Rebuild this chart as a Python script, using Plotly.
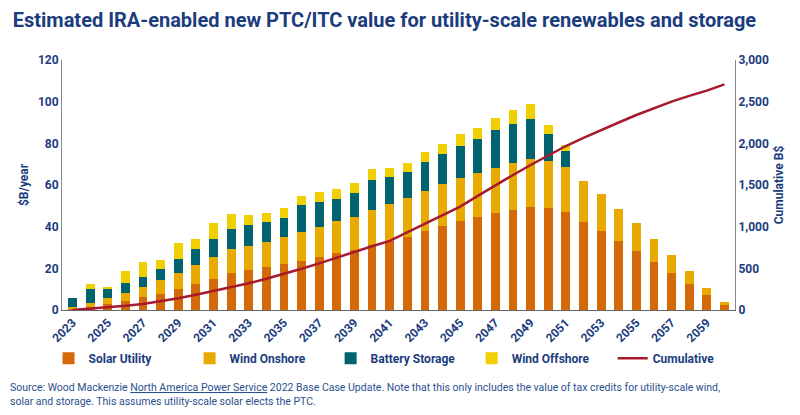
import plotly.graph_objects as go

years = list(range(2023, 2061))
solar = [0.8, 1.3, 2.9, 4.5, 6.1, 7.8, 10.2, 12.5, 15.0, 17.9, 19.2, 20.6, 22.1, 23.7, 25.4, 27.5, 29.0, 31.2, 33.1,
         34.9, 37.8, 40.2, 42.6, 44.6, 46.4, 48.0, 49.3, 49.0, 47.0, 42.4, 37.9, 33.1, 28.2, 23.2, 17.9, 12.5, 7.0, 2.6]
onshore = [0.8, 2.2, 3.0, 3.8, 4.9, 6.6, 7.6, 8.9, 10.4, 11.4, 11.7, 12.2, 12.8, 13.7, 14.4, 15.1, 15.8, 16.8, 17.6,
           19.0, 19.3, 20.3, 20.8, 21.3, 21.9, 22.4, 23.0, 22.5, 21.8, 19.7, 17.6, 15.5, 13.4, 11.0, 8.5, 6.1, 3.4, 1.4]
battery = [4.0, 6.4, 4.5, 4.7, 4.8, 5.4, 6.7, 8.0, 8.8, 9.4, 10.1, 9.3, 9.4, 12.8, 12.0, 10.8, 11.4, 14.6, 13.3,
           12.3, 13.9, 14.2, 15.5, 16.0, 18.1, 19.0, 19.5, 12.8, 7.7, 0, 0, 0, 0, 0, 0, 0, 0, 0]
offshore = [0, 2.6, 0.5, 5.7, 7.4, 4.4, 7.8, 4.5, 7.4, 7.4, 4.4, 4.6, 4.7, 4.5, 4.7, 4.7, 4.6, 4.9, 4.3,
            4.4, 4.7, 4.8, 5.4, 5.3, 5.6, 6.6, 7.1, 4.3, 2.7, 0, 0, 0, 0, 0, 0, 0, 0, 0]
cumulative = [0, 15, 30, 50, 72, 105, 140, 182, 228, 272, 320, 375, 432, 495, 560, 630, 704, 765, 830,
              935, 1040, 1140, 1240, 1370, 1500, 1620, 1740, 1855, 1968, 2065, 2160, 2250, 2340, 2420, 2500, 2570, 2632, 2708]

navy = "#1b3c7d"
bold = dict(color=navy, size=12, weight="bold")
fig = go.Figure()
for name, vals, col in [("Solar Utility", solar, "#d4690a"), ("Wind Onshore", onshore, "#e8a900"),
                        ("Battery Storage", battery, "#00636f"), ("Wind Offshore", offshore, "#f0d000")]:
    fig.add_trace(go.Bar(x=years, y=vals, name=name, marker=dict(color=col, line=dict(width=0)), width=0.5))
fig.add_trace(go.Scatter(x=years, y=cumulative, name="Cumulative", yaxis="y2", mode="lines",
                         line=dict(color="#a6192e", width=2.5)))

fig.update_layout(
    width=792, height=407, barmode="stack", plot_bgcolor="white", paper_bgcolor="white",
    font=dict(family="Roboto", color=navy, size=12),
    margin=dict(l=54, r=65, t=52, b=105, autoexpand=False),
    title=dict(text="<b>Estimated IRA-enabled new PTC/ITC value for utility-scale renewables and storage</b>",
               x=0.006, xanchor="left", y=0.97, yanchor="middle", font=dict(size=20, color=navy)),
    xaxis=dict(tickmode="array", tickvals=years[::2], tickangle=-45, showline=True, linecolor="#666",
               range=[2022.4, 2060.6], tickfont=bold),
    yaxis=dict(range=[0, 120], dtick=20, showgrid=False, showline=True, linecolor="#888",
               title=dict(text="$B/year", standoff=6, font=bold), tickfont=bold),
    yaxis2=dict(range=[0, 3000], dtick=500, overlaying="y", side="right", showgrid=False, showline=True,
                linecolor="#888", tickformat=",", title=dict(text="Cumulative B$", standoff=6, font=bold),
                tickfont=bold),
    legend=dict(orientation="h", x=-0.02, y=-0.135, xanchor="left", yanchor="top",
                entrywidth=0.194, entrywidthmode="fraction",
                font=dict(size=12, color=navy, weight="bold"), traceorder="normal"),
)
fig.add_annotation(
    text="Source: Wood Mackenzie <u>North America Power Service</u> 2022 Base Case Update. Note that this only includes the value of tax credits for utility-scale wind,<br>solar and storage. This assumes utility-scale solar elects the PTC.",
    xref="paper", yref="paper", x=-0.08, y=-0.40, xanchor="left", yanchor="bottom", showarrow=False,
    align="left", font=dict(size=10.5, color="#2a4f8f"))
fig.write_html("out.html")
